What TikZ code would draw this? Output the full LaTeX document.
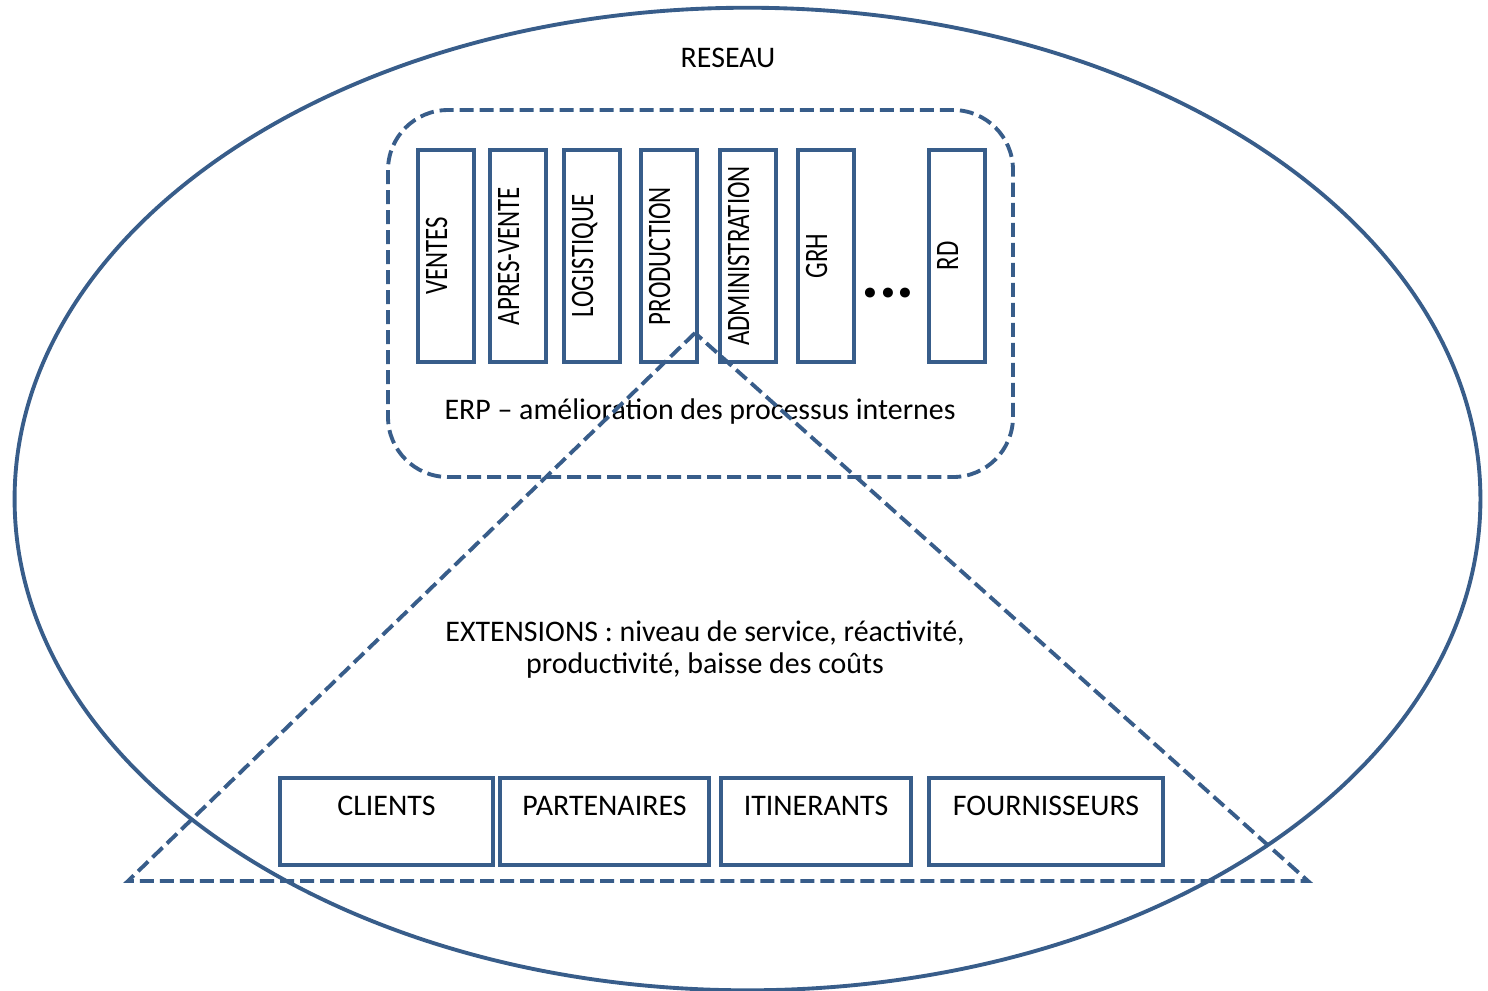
\documentclass[tikz,border=0pt]{standalone}
\usepackage{fontspec}
\setmainfont{Carlito}
\definecolor{outline}{HTML}{385D8A}
\newcommand{\vtext}[1]{\scalebox{0.76}[1]{#1}}

\begin{document}
\begin{tikzpicture}[x=0.01cm,y=-0.01cm]
\tikzstyle{line}=[draw=outline, line width=1.1pt]
\tikzstyle{dashline}=[line, dash pattern=on 1.4mm off 0.6mm]
\tikzstyle{module}=[line, fill=white, rotate=90, minimum width=21.2mm, minimum height=5.6mm, inner sep=0pt, text height=2.1mm, text depth=1.9mm, font=\fontsize{9.3}{10}\selectfont]
\tikzstyle{partner}=[line, fill=white, minimum height=8.7mm, inner sep=0pt, text height=3.7mm, text depth=5mm, font=\fontsize{8.5}{9.1}\selectfont]
\tikzstyle{txt}=[font=\fontsize{8.5}{9.1}\selectfont, align=center]
\useasboundingbox (0,0) rectangle (1488,990);

\draw[line] (747.5,499) ellipse [x radius=7.325cm, y radius=4.91cm];
\node[txt] (reseau) at (728,58) {RESEAU};

\draw[dashline, rounded corners=6mm] (388,110) rectangle (1013,477);

\node[module] (ventes) at (446,256) {\vtext{VENTES}};
\node[module] (apres) at (518,256) {\vtext{APRES-VENTE}};
\node[module] (logistique) at (592,256) {\vtext{LOGISTIQUE}};
\node[module] (production) at (669,256) {\vtext{PRODUCTION}};
\node[module] (admin) at (748,256) {\vtext{ADMINISTRATION}};
\node[module] (grh) at (826,256) {\vtext{GRH}};
\node[anchor=base, font=\fontsize{19}{19}\selectfont\bfseries] (dots) at (888,297) {...};
\node[module] (rd) at (957,256) {\vtext{RD}};

\node[txt] (erp) at (700,412) {ERP – amélioration des processus internes};

\coordinate (apex) at (695,333);
\coordinate (left) at (128,881);
\coordinate (right) at (1308,881);
\draw[dashline] (apex) -- (left) -- (right) -- cycle;

\node[txt] (ext) at (705,650) {EXTENSIONS : niveau de service, réactivité,\\productivité, baisse des coûts};

\node[partner, minimum width=21.3mm] (clients) at (386.5,821.5) {CLIENTS};
\node[partner, minimum width=20.9mm] (partenaires) at (604.5,821.5) {PARTENAIRES};
\node[partner, minimum width=19mm] (itinerants) at (816,821.5) {ITINERANTS};
\node[partner, minimum width=23.4mm] (fournisseurs) at (1046,821.5) {FOURNISSEURS};

\end{tikzpicture}
\end{document}
